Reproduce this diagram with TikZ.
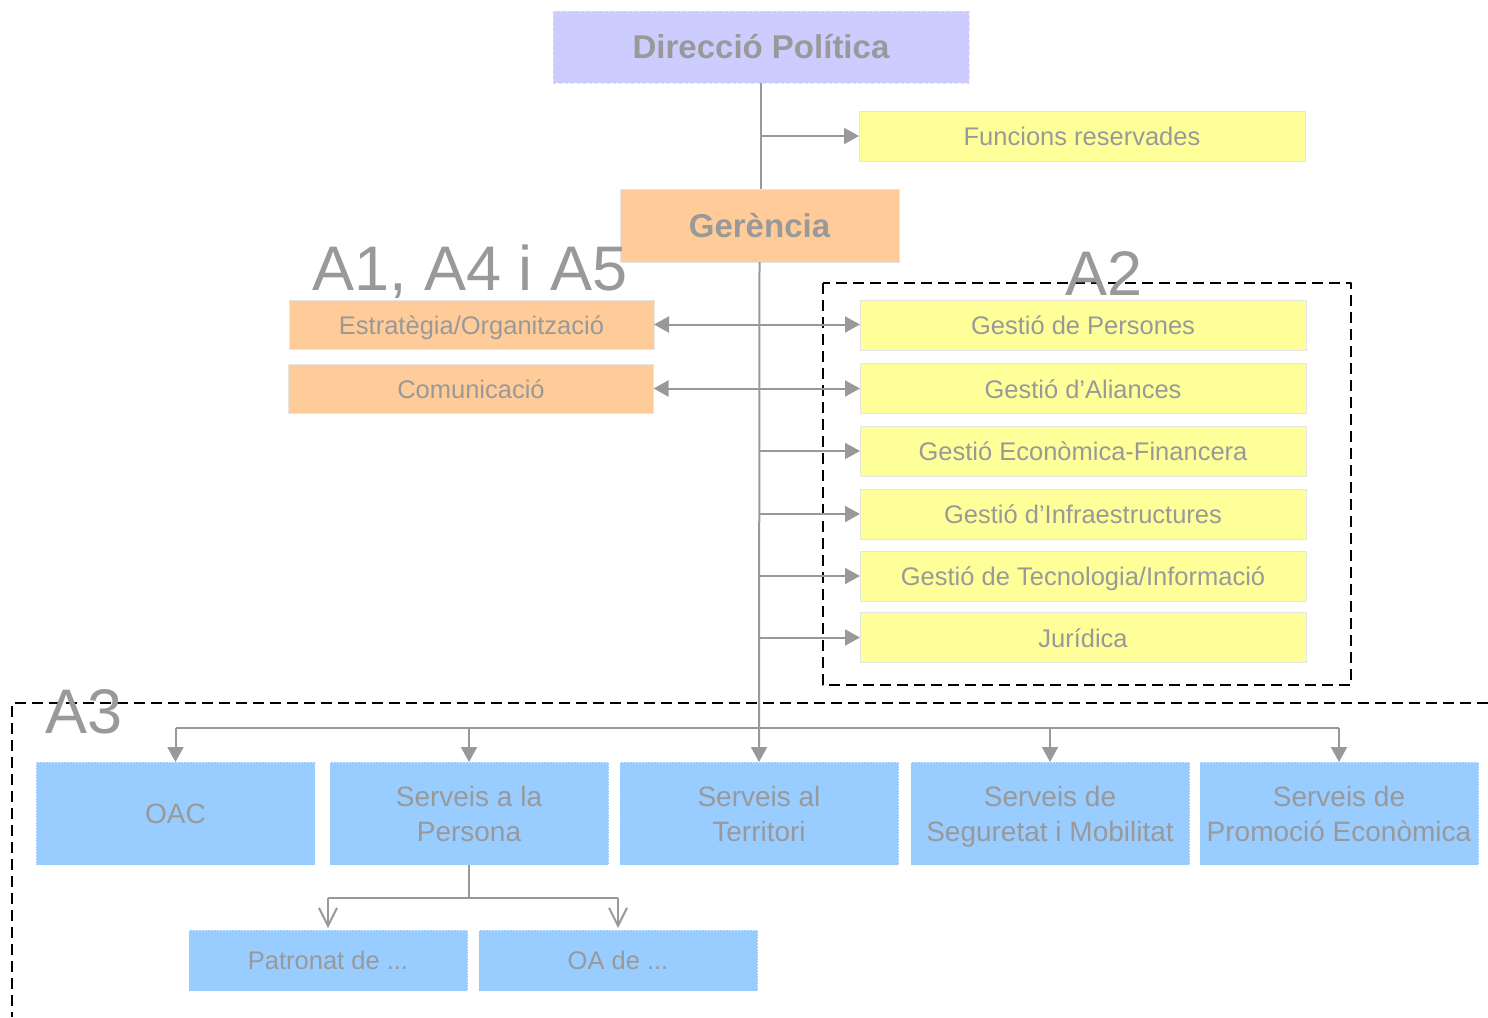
\documentclass[tikz,border=0pt]{standalone}
\usepackage{fontspec}
\setmainfont{Liberation Sans}
\usetikzlibrary{arrows.meta,calc,positioning}
\definecolor{txtgray}{HTML}{999999}
\definecolor{lngray}{HTML}{999999}
\definecolor{lavender}{HTML}{CCCCFF}
\definecolor{yelbox}{HTML}{FFFF99}
\definecolor{orabox}{HTML}{FFCC99}
\definecolor{blubox}{HTML}{99CCFF}
\tikzset{
  box/.style={draw=black!10, line width=1pt, inner sep=0pt, outer sep=0pt, text=txtgray, align=center},
  yelnode/.style={box, fill=yelbox, minimum width=446pt, minimum height=50pt, text height=22pt, text depth=3pt, font=\fontsize{25.5}{30}\selectfont},
  oranode/.style={box, fill=orabox, minimum width=365pt, minimum height=49pt, text height=22pt, text depth=3pt, font=\fontsize{25.5}{30}\selectfont},
  blunode/.style={box, draw=white!85!blubox, dotted, fill=blubox, minimum width=279pt, minimum height=103pt, text depth=0pt, font=\fontsize{28}{35}\selectfont},
  conn/.style={draw=lngray, line width=2pt},
  arr/.style={conn, -{Triangle[length=15pt,width=16pt]}},
  dbl/.style={conn, {Triangle[length=15pt,width=16pt]}-{Triangle[length=15pt,width=16pt]}},
  opn/.style={conn, -{Straight Barb[length=18pt,width=18pt,line width=2pt]}},
  zone/.style={line width=2pt, dash pattern=on 11pt off 6pt},
  zonelabel/.style={anchor=base, text=txtgray, font=\fontsize{63}{70}\selectfont}
}
\begin{document}
\begin{tikzpicture}[x=1pt,y=-1pt,line join=round]
\useasboundingbox (0,0) rectangle (1488,1017);
% zones
\draw[zone] (823,283) rectangle (1351,685);
\draw[zone] (1488,703) -| (12,1017);
% top
\node[box, draw=black!12, dashed, fill=lavender, minimum width=416pt, minimum height=72pt, font=\bfseries\fontsize{33}{38}\selectfont] (dir) at (761,47) {Direcció Política};
\node[yelnode] (fun) at (1082,136) {Funcions reservades};
\node[box, fill=orabox, minimum width=279pt, minimum height=73pt, font=\bfseries\fontsize{33}{38}\selectfont] (ger) at (759.5,225.5) {Gerència};
\node[oranode] (est) at (471.5,324.5) {Estratègia/Organització};
\node[oranode] (com) at (471,388.5) {Comunicació};
% A2
\foreach \n/\y/\t in {g1/325/{Gestió de Persones},g2/388.5/{Gestió d’Aliances},g3/451/{Gestió Econòmica-Financera},g4/514/{Gestió d’Infraestructures},g5/576/{Gestió de Tecnologia/Informació},g6/637.5/{Jurídica}}{
  \node[yelnode] (\n) at (1083,\y) {\t};
}
% A3
\node[blunode] (oac) at (175.5,813.5) {OAC};
\node[blunode] (per) at (469,813.5) {Serveis a la\\Persona};
\node[blunode] (ter) at (759,813.5) {Serveis al\\Territori};
\node[blunode] (seg) at (1050,813.5) {Serveis de\\Seguretat i Mobilitat};
\node[blunode] (pro) at (1339,813.5) {Serveis de\\Promoció Econòmica};
\node[blunode, minimum height=61pt, font=\fontsize{25.5}{30}\selectfont] (pat) at (328,960.5) {Patronat de ...};
\node[blunode, minimum height=61pt, font=\fontsize{25.5}{30}\selectfont] (oad) at (618,960.5) {OA de ...};
% labels
\node[zonelabel] (la1) at (470,290) {A1, A4 i A5};
\node[zonelabel] (la2) at (1104,295) {A2};
\node[zonelabel] (la3) at (84,733) {A3};
% connectors
\draw[conn] (dir.south) -- (dir.south |- ger.north);
\draw[arr] (dir.south |- fun.west) -- (fun.west);
\draw[arr] (ger.south) -- (ter.north);
\draw[dbl] (est.east) -- (est.east -| g1.west);
\draw[dbl] (com.east) -- (com.east -| g2.west);
\foreach \n in {g3,g4,g5,g6}{\draw[arr] (ger.south |- \n.west) -- (\n.west);}
\coordinate (hb) at (0,728);
\draw[conn] (hb -| oac.north) -- (hb -| pro.north);
\foreach \n in {oac,per,seg,pro}{\draw[arr] (hb -| \n.north) -- (\n.north);}
\draw[conn] (per.south) -- ++(0,33) coordinate (sb);
\draw[conn] (sb -| pat.north) -- (sb -| oad.north);
\foreach \n in {pat,oad}{\draw[opn] (sb -| \n.north) -- ($(\n.north)+(0,-2)$);}
\end{tikzpicture}
\end{document}
